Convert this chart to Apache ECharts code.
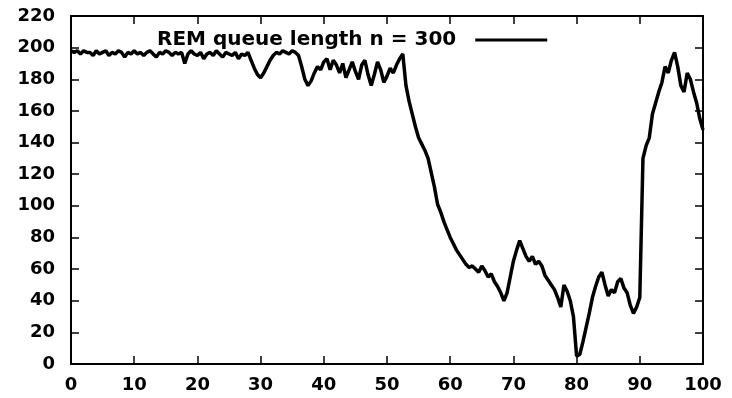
<!DOCTYPE html>
<html>
<head>
<meta charset="utf-8">
<script src="https://cdn.jsdelivr.net/npm/echarts@6/dist/echarts.min.js"></script>
<style>
  html, body { margin: 0; padding: 0; background: #fff; }
  #main { width: 732px; height: 398px; }
</style>
</head>
<body>
<div id="main"></div>
<script>
// queue length sampled every 0.5 time units, one array per decade
var sampleStep = 0.5
var q00 = [198,197,198,196,198,197,197,195,198,196, 197,198,195,197,196,198,197,194,197,196]
var q10 = [198,196,197,195,197,198,196,194,197,196, 198,197,195,197,196,197,190,196,198,196]
var q20 = [195,197,193,196,197,195,198,196,194,197, 196,195,197,193,196,195,197,192,187,183]
var q30 = [181,184,188,192,195,197,196,198,197,196, 198,197,195,188,180,176,179,184,188,186]
var q40 = [191,193,186,192,189,184,190,181,186,191, 185,180,189,192,183,176,183,191,186,178]
var q50 = [182,187,184,189,193,196,176,166,158,150, 143,139,135,130,121,112,101,96,90,85]
var q60 = [80,76,72,69,66,63,61,62,60,58, 62,59,55,57,52,49,45,40,45,55]
var q70 = [65,72,78,73,68,65,68,63,65,62, 56,53,50,47,42,36,50,46,40,30]
var q80 = [5,6,14,23,32,42,49,55,58,50, 43,47,45,52,54,48,45,37,32,36]
var q90 = [42,130,138,143,158,165,172,178,188,184, 192,197,188,176,172,184,180,172,165,155]
var qEnd = [148]

var seriesName = 'REM queue length n = 300'
var labelFont = 'DejaVu Sans'

var allVals = [].concat(q00, q10, q20, q30, q40, q50, q60, q70, q80, q90, qEnd)
var lineData = allVals.map(function (v, i) { return [i * sampleStep, v] })

var chart = echarts.init(document.getElementById('main'))

var axisLine = { show: true, onZero: false, lineStyle: { color: '#000', width: 2 } }
var axisTick = { show: true, inside: true, length: 8, lineStyle: { color: '#000', width: 1.5 } }
var lbl = { color: '#000', fontFamily: labelFont, fontWeight: 'bold', fontSize: 18 }

const option = {
    animation: false,
    backgroundColor: '#fff',
    grid: { left: 71, right: 29, top: 16, bottom: 34 },
    legend: {
        data: [{ name: seriesName, icon: 'rect' }],
        left: 152,
        top: 25,
        align: 'right',
        itemWidth: 72,
        itemHeight: 3,
        textStyle: {
            color: '#000', fontFamily: labelFont, fontWeight: 'bold', fontSize: 20,
            padding: [0, 14, 0, 0]
        }
    },
    xAxis: [{
        type: 'value', min: 0, max: 100, interval: 10, position: 'bottom',
        axisLine: axisLine, axisTick: axisTick,
        axisLabel: Object.assign({ margin: 12 }, lbl),
        splitLine: { show: false }
    }, {
        type: 'value', min: 0, max: 100, interval: 10, position: 'top',
        axisLine: axisLine, axisTick: axisTick,
        axisLabel: { show: false },
        splitLine: { show: false }
    }],
    yAxis: [{
        type: 'value', min: 0, max: 220, interval: 20, position: 'left',
        axisLine: axisLine, axisTick: axisTick,
        axisLabel: Object.assign({ margin: 16 }, lbl),
        splitLine: { show: false }
    }, {
        type: 'value', min: 0, max: 220, interval: 20, position: 'right',
        axisLine: axisLine, axisTick: axisTick,
        axisLabel: { show: false },
        splitLine: { show: false }
    }],
    series: [{
        name: seriesName,
        type: 'line',
        data: lineData,
        showSymbol: false,
        itemStyle: { color: '#000' },
        lineStyle: { color: '#000', width: 3.5 }
    }]
}

chart.setOption(option)
</script>
</body>
</html>
